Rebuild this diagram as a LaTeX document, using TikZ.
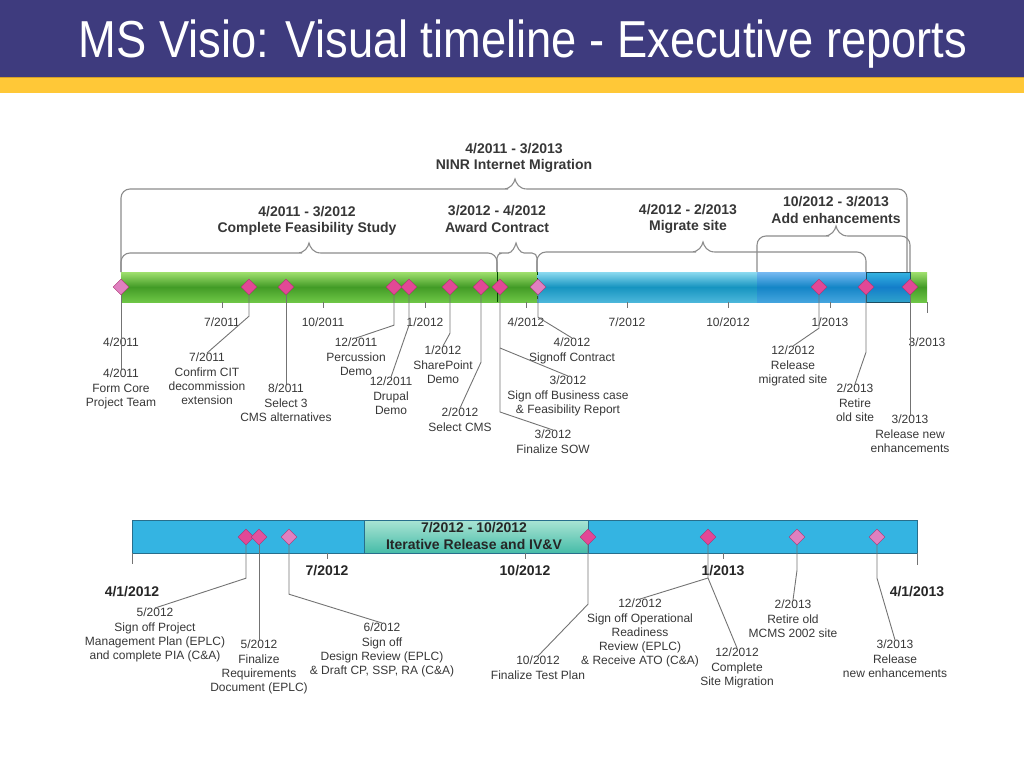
\documentclass[tikz,border=0pt]{standalone}
\usepackage{graphicx}
\usepackage{fontspec}
\setmainfont{Liberation Sans}
\usepackage{tikz}
\tikzset{>=latex}
\usetikzlibrary{shapes.geometric}
\usetikzlibrary{calc}
\definecolor{header}{RGB}{62,59,126}
\definecolor{stripe}{RGB}{255,200,55}
\definecolor{stripedark}{RGB}{214,160,40}
\definecolor{textgray}{RGB}{55,55,55}
\definecolor{leadergray}{RGB}{115,115,115}
\definecolor{bracegray}{RGB}{140,140,140}
\definecolor{greenlight}{RGB}{160,224,110}
\definecolor{greendark}{RGB}{66,155,38}
\definecolor{greenbottom}{RGB}{110,198,70}
\definecolor{cyanlight}{RGB}{140,218,240}
\definecolor{cyandark}{RGB}{22,148,192}
\definecolor{cyanbottom}{RGB}{75,182,218}
\definecolor{barblue}{RGB}{52,180,226}
\definecolor{barborder}{RGB}{40,110,140}
\definecolor{teallight}{RGB}{170,228,212}
\definecolor{tealdark}{RGB}{70,188,168}
\definecolor{pinkdark}{RGB}{226,72,150}
\definecolor{pinklight}{RGB}{224,128,192}
\definecolor{pinkedge}{RGB}{170,50,110}

\tikzset{
  milestone/.style={diamond, draw=pinkedge, fill=pinkdark, inner sep=0pt, minimum width=16pt, minimum height=16pt},
  milestone light/.style={milestone, fill=pinklight},
  note/.style={font=\fontsize{12}{14.2}\selectfont, text=textgray, align=center, inner sep=0pt, anchor=north},
  heading/.style={font=\fontsize{14}{16.5}\selectfont\bfseries, text=textgray, align=center, inner sep=0pt},
  ticklabel/.style={font=\fontsize{12}{14}\selectfont, text=textgray, inner sep=0pt},
  boldtick/.style={font=\fontsize{14}{16}\selectfont\bfseries, text=black!85, inner sep=0pt},
  leader/.style={draw=leadergray, line width=0.9pt},
  curly/.style={draw=bracegray, line width=1.1pt},
}

\begin{document}
\begin{tikzpicture}[x=1pt, y=-1pt]
    \useasboundingbox (0,0) rectangle (1024,768);
    % header
    \fill[header] (0,0) rectangle (1024,77);
    \fill[stripe] (0,77) rectangle (1024,93);
    \draw[stripedark, line width=1pt] (0,77.5) -- (1024,77.5);
    \node[text=white, font=\fontsize{52}{60}\selectfont, anchor=base, inner sep=0pt] (title) at (523,57)
        {\scalebox{0.871}[1]{MS Visio: Visual timeline - Executive reports}};

    % braces over the upper timeline
    \foreach \xa/\xb/\xt/\yb/\r/\w in {121/907/515/189/9/12, 121/497/309/253/9/12, 497/537/516/253/5/8, 537/866/703/252/9/12, 757/910/836/236/9/12} {
        \draw[curly] (\xa,272) [rounded corners=\r pt] -- (\xa,\yb) -- (\xt-\w-4,\yb) [sharp corners] -- (\xt-\w,\yb)
            .. controls (\xt-4,\yb) and (\xt-1,\yb-6) .. (\xt,\yb-10)
            .. controls (\xt+1,\yb-6) and (\xt+4,\yb) .. (\xt+\w,\yb) -- (\xt+\w+4,\yb)
            [rounded corners=\r pt] -- (\xb,\yb) -- (\xb,272);
    }
    \node[heading] (migration) at (514,158) {4/2011 - 3/2013\\NINR Internet Migration};
    \node[heading] (feasibility) at (307,221) {4/2011 - 3/2012\\Complete Feasibility Study};
    \node[heading] (award) at (497,219) {3/2012 - 4/2012\\Award Contract};
    \node[heading] (migrate) at (688,219) {4/2012 - 2/2013\\Migrate site};
    \node[heading] (enhance) at (836,210) {10/2012 - 3/2013\\Add enhancements};

    % upper timeline bar
    \shade[top color=greenlight, bottom color=greenbottom, middle color=greendark] (121,272) rectangle (927,302);
    \shade[top color=cyanlight, bottom color=cyanbottom, middle color=cyandark] (537,272) rectangle (757,302);
    \shade[top color=cyanlight!85!blue, bottom color=cyanbottom!90!blue, middle color=cyandark!90!blue] (757,272) rectangle (866,302);
    \shade[top color=barblue, bottom color=barblue!90!black, middle color=cyandark!85!blue] (866,272) rectangle (910,302);
    \draw[barborder!70!black, line width=0.8pt] (866,272) rectangle (910,302);
    \draw[green!30!black, line width=0.7pt] (497,272) -- (497,302);
    \draw[green!30!black, dashed, line width=0.7pt] (537,272) -- (537,302);
    \foreach \x/\m/\yr in {222/7/2011, 323/10/2011, 425/1/2012, 526/4/2012, 627/7/2012, 728/10/2012, 830/1/2013} {
        \draw[leadergray, line width=0.8pt] (\x,302) -- (\x,308);
        \node[ticklabel] (t\x) at (\x,322) {\m/\yr};
    }
    \draw[leadergray, line width=0.8pt] (927,302) -- (927,313);
    \node[ticklabel] (tstart) at (121,342) {4/2011};
    \node[ticklabel] (tend) at (927,342) {3/2013};

    % upper milestones
    \node[milestone light] (m1) at (121,287) {};
    \node[milestone] (m2) at (249,287) {};
    \node[milestone] (m3) at (286,287) {};
    \node[milestone] (m4) at (394,287) {};
    \node[milestone] (m5) at (409,287) {};
    \node[milestone] (m6) at (450,287) {};
    \node[milestone] (m7) at (481,287) {};
    \node[milestone] (m8) at (500,287) {};
    \node[milestone light] (m9) at (538,287) {};
    \node[milestone] (m10) at (819,287) {};
    \node[milestone] (m11) at (866,287) {};
    \node[milestone] (m12) at (910,287) {};

    \node[note] (n1) at (121,369) {4/2011\\Form Core\\Project Team};
    \node[note] (n2) at (207,353) {7/2011\\Confirm CIT\\decommission\\extension};
    \node[note] (n3) at (286,384) {8/2011\\Select 3\\CMS alternatives};
    \node[note] (n4) at (356,338) {12/2011\\Percussion\\Demo};
    \node[note] (n5) at (391,377) {12/2011\\Drupal\\Demo};
    \node[note] (n6) at (443,346) {1/2012\\SharePoint\\Demo};
    \node[note] (n7) at (460,408) {2/2012\\Select CMS};
    \node[note] (n8a) at (568,376) {3/2012\\Sign off Business case\\\& Feasibility Report};
    \node[note] (n8b) at (553,430) {3/2012\\Finalize SOW};
    \node[note] (n9) at (572,338) {4/2012\\Signoff Contract};
    \node[note] (n10) at (793,346) {12/2012\\Release\\migrated site};
    \node[note] (n11) at (855,384) {2/2013\\Retire\\old site};
    \node[note] (n12) at (910,415) {3/2013\\Release new\\enhancements};

    \draw[leader] (m1.south) -- (n1.north);
    \draw[leader] (m2.south) -- ++(0,21) -- (n2.north);
    \draw[leader] (m3.south) -- (n3.north);
    \draw[leader] (m4.south) -- ++(0,30) -- (n4.north);
    \draw[leader] (m5.south) -- ++(0,30) -- (n5.north);
    \draw[leader] (m6.south) -- ++(0,38) -- (n6.north);
    \draw[leader] (m7.south) -- ++(0,67) -- (n7.north);
    \coordinate (j8) at (500,348);
    \draw[leader] (m8.south) -- (j8) -- ++(0,64) -- (n8b.north);
    \draw[leader] (j8) -- (n8a.north);
    \draw[leader] (m9.south) -- ++(0,22) -- (n9.north);
    \draw[leader] (m10.south) -- ++(0,33) -- (n10.north);
    \draw[leader] (m11.south) -- ++(0,57) -- (n11.north);
    \draw[leader] (m12.south) -- (n12.north);

    % lower timeline bar
    \fill[barblue] (132,520) rectangle (917,553);
    \shade[top color=teallight, bottom color=tealdark] (364,520) rectangle (588,553);
    \draw[barborder, line width=0.8pt] (132,520) rectangle (917,553);
    \draw[barborder, line width=0.8pt] (364,520) -- (364,553) (588,520) -- (588,553);
    \node[heading, text=black!85] (iterative) at (474,536) {7/2012 - 10/2012\\Iterative Release and IV\&V};
    \foreach \x/\m/\yr in {327/7/2012, 525/10/2012, 723/1/2013} {
        \draw[leadergray, line width=0.8pt] (\x,553) -- (\x,559);
        \node[boldtick] (u\x) at (\x,571) {\m/\yr};
    }
    \draw[leadergray, line width=0.8pt] (132,553) -- (132,564);
    \draw[leadergray, line width=0.8pt] (917,553) -- (917,565);
    \node[boldtick] (ustart) at (132,592) {4/1/2012};
    \node[boldtick] (uend) at (917,592) {4/1/2013};

    % lower milestones
    \node[milestone] (b1) at (246,537) {};
    \node[milestone, fill=pinkdark!80!pinklight] (b2) at (259,537) {};
    \node[milestone light] (b3) at (289,537) {};
    \node[milestone] (b4) at (588,537) {};
    \node[milestone] (b5) at (708,537) {};
    \node[milestone light] (b6) at (797,537) {};
    \node[milestone light] (b7) at (877,537) {};

    \node[note] (n13) at (155,608) {5/2012\\Sign off Project\\Management Plan (EPLC)\\and complete PIA (C\&A)};
    \node[note] (n14) at (259,640) {5/2012\\Finalize\\Requirements\\Document (EPLC)};
    \node[note] (n15) at (382,623) {6/2012\\Sign off\\Design Review (EPLC)\\\& Draft CP, SSP, RA (C\&A)};
    \node[note] (n16) at (538,656) {10/2012\\Finalize Test Plan};
    \node[note] (n17a) at (640,599) {12/2012\\Sign off Operational\\Readiness\\Review (EPLC)\\\& Receive ATO (C\&A)};
    \node[note] (n17b) at (737,648) {12/2012\\Complete\\Site Migration};
    \node[note] (n18) at (793,600) {2/2013\\Retire old\\MCMS 2002 site};
    \node[note] (n19) at (895,640) {3/2013\\Release\\new enhancements};

    \draw[leader] (b1.south) -- ++(0,33) -- (n13.north);
    \draw[leader] (b2.south) -- (n14.north);
    \draw[leader] (b3.south) -- ++(0,49) -- (n15.north);
    \draw[leader] (b4.south) -- ++(0,59) -- (n16.north);
    \coordinate (j17) at (708,578);
    \draw[leader] (b5.south) -- (j17) -- (n17a.north);
    \draw[leader] (j17) -- (n17b.north);
    \draw[leader] (b6.south) -- ++(0,25) -- (n18.north);
    \draw[leader] (b7.south) -- ++(0,33) -- (n19.north);
\end{tikzpicture}
\end{document}
